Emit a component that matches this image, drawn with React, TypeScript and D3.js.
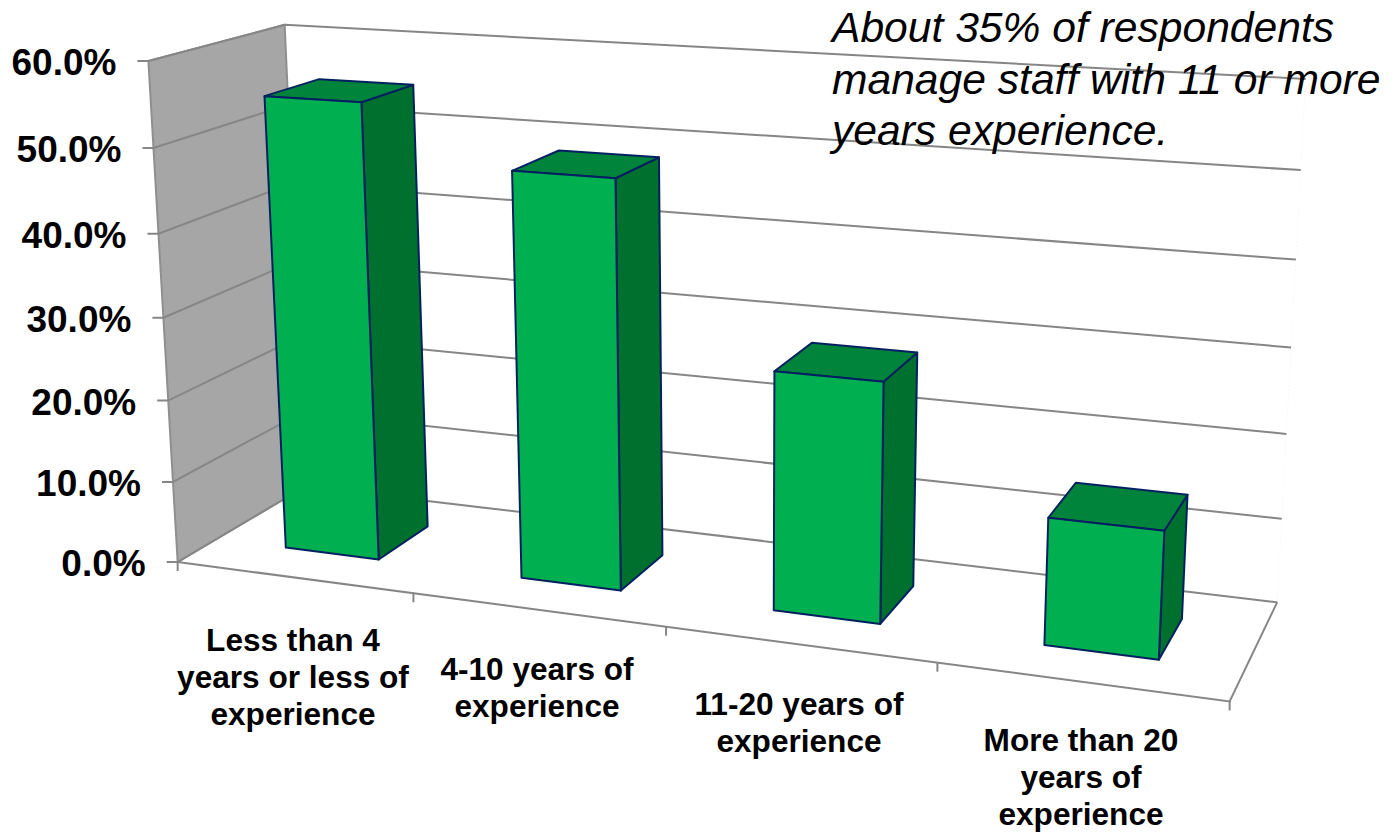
import React, { useEffect, useRef } from 'react';
import * as d3 from 'd3';

const categories = ['Less than 4 years or less of experience', '4-10 years of experience', '11-20 years of experience', 'More than 20 years of experience'];
const values = [55.1, 48.4, 28, 14.6];
const yTicks = [0, 10, 20, 30, 40, 50, 60];

const categoryLines = [
  ['Less than 4', 'years or less of', 'experience'],
  ['4-10 years of', 'experience'],
  ['11-20 years of', 'experience'],
  ['More than 20', 'years of', 'experience'],
];
const labelCenters = [293, 537, 799, 1081];
const labelBaselines = [651, 680, 715, 751];
const note = ['About 35% of respondents', 'manage staff with 11 or more', 'years experience.'];

// box corners: [u, v, w] -> [px, py]
const calibration: [number, number, number, number, number][] = [
  [0, 0, 0, 178, 562],
  [0.25, 0, 0, 414, 593],
  [0.5, 0, 0, 666, 627],
  [0.75, 0, 0, 938, 663],
  [1, 0, 0, 1229, 702],
  [0, 0, 1, 305, 487],
  [1, 0, 1, 1277, 602],
  [0, 0.5, 0, 163, 316],
  [0, 1, 0, 148, 62],
  [0, 1, 1, 285, 25],
  [1, 1, 1, 1306, 79],
  [1, 0.5, 1, 1291, 347],
];

// least squares fit of a 3D -> 2D perspective matrix
function fitProjection(points: typeof calibration) {
  const n = 11;
  const A = d3.range(n).map(() => new Array(n + 1).fill(0));
  const addRow = (row: number[], rhs: number) => {
    for (let i = 0; i < n; i++) {
      for (let j = 0; j < n; j++) A[i][j] += row[i] * row[j];
      A[i][n] += row[i] * rhs;
    }
  };
  points.forEach(([u, v, w, x, y]) => {
    addRow([u, v, w, 1, 0, 0, 0, 0, -x * u, -x * v, -x * w], x);
    addRow([0, 0, 0, 0, u, v, w, 1, -y * u, -y * v, -y * w], y);
  });
  for (let c = 0; c < n; c++) {
    let p = c;
    for (let r = c + 1; r < n; r++) if (Math.abs(A[r][c]) > Math.abs(A[p][c])) p = r;
    [A[c], A[p]] = [A[p], A[c]];
    for (let r = 0; r < n; r++) {
      if (r === c) continue;
      const f = A[r][c] / A[c][c];
      for (let k = c; k <= n; k++) A[r][k] -= f * A[c][k];
    }
  }
  const m = A.map((row, i) => row[n] / row[i]);
  return (u: number, v: number, w: number): [number, number] => {
    const d = m[8] * u + m[9] * v + m[10] * w + 1;
    return [
      (m[0] * u + m[1] * v + m[2] * w + m[3]) / d,
      (m[4] * u + m[5] * v + m[6] * w + m[7]) / d,
    ];
  };
}

const App: React.FC = () => {
  const svgRef = useRef<SVGSVGElement>(null);

  useEffect(() => {
    if (!svgRef.current) return;
    const svg = d3.select(svgRef.current);
    svg.selectAll('*').remove();

    const project = fitProjection(calibration);
    const xBand = d3.scaleBand<string>().domain(categories).range([0.0015, 1.0015]).paddingInner(0.598).paddingOuter(0.299);
    const yScale = d3.scaleLinear().domain([0, 60]).range([0, 1]);
    const depth = d3.scaleLinear().domain([0, 1]).range([0.29, 0.71]);
    const line = d3.line();
    const closed = (pts: [number, number][]) => line(pts) + 'Z';

    const gridColor = '#868686';

    // left wall
    svg.append('path')
      .attr('d', closed([project(0, 0, 0), project(0, 1, 0), project(0, 1, 1), project(0, 0, 1)]))
      .attr('fill', '#a6a6a6')
      .attr('stroke', '#8f8f8f')
      .attr('stroke-width', 2);

    // faint far edge of the back wall
    svg.append('path')
      .attr('d', line([project(1, 0, 1), project(1, 1, 1)]))
      .attr('stroke', '#f2f2f2')
      .attr('stroke-width', 1)
      .attr('stroke-dasharray', '1 3');

    // gridlines on both walls, plus outward ticks
    yTicks.forEach(t => {
      const v = yScale(t);
      const front = project(0, v, 0);
      svg.append('path')
        .attr('d', line([[front[0] - 11, front[1]], front, project(0, v, 1), project(1, v, 1)]))
        .attr('fill', 'none')
        .attr('stroke', gridColor)
        .attr('stroke-width', 2);
    });

    // floor edges and category ticks
    svg.append('path')
      .attr('d', line([project(0, 0, 0), project(1, 0, 0), project(1, 0, 1)]))
      .attr('fill', 'none')
      .attr('stroke', gridColor)
      .attr('stroke-width', 2);
    d3.range(0, 5).forEach(i => {
      const p = project(i / 4, 0, 0);
      svg.append('path')
        .attr('d', line([p, [p[0], p[1] + 9]]))
        .attr('stroke', gridColor)
        .attr('stroke-width', 2);
    });

    // bars
    categories.forEach((c, i) => {
      const u0 = xBand(c)!;
      const u1 = u0 + xBand.bandwidth();
      const v = yScale(values[i]);
      const w0 = depth(0);
      const w1 = depth(1);
      const g = svg.append('g').attr('stroke', '#002060').attr('stroke-width', 2).attr('stroke-linejoin', 'round');
      g.append('path')
        .attr('fill', '#00702f')
        .attr('d', closed([project(u1, 0, w0), project(u1, v, w0), project(u1, v, w1), project(u1, 0, w1)]));
      g.append('path')
        .attr('fill', '#00843c')
        .attr('d', closed([project(u0, v, w0), project(u1, v, w0), project(u1, v, w1), project(u0, v, w1)]));
      g.append('path')
        .attr('fill', '#00b050')
        .attr('d', closed([project(u0, 0, w0), project(u1, 0, w0), project(u1, v, w0), project(u0, v, w0)]));
    });

    const font = '"Liberation Sans", Arial, sans-serif';

    // value axis labels
    yTicks.forEach(t => {
      const p = project(0, yScale(t), 0);
      svg.append('text')
        .attr('x', p[0] - 32)
        .attr('y', p[1] + 14)
        .attr('text-anchor', 'end')
        .style('font-family', font)
        .style('font-size', '37px')
        .style('font-weight', '700')
        .text(`${t.toFixed(1)}%`);
    });

    // category labels
    categoryLines.forEach((lines, i) => {
      lines.forEach((l, k) => {
        svg.append('text')
          .attr('x', labelCenters[i])
          .attr('y', labelBaselines[i] + k * 37)
          .attr('text-anchor', 'middle')
          .style('font-family', font)
          .style('font-size', '31.6px')
          .style('font-weight', '700')
          .text(l);
      });
    });

    // annotation
    note.forEach((l, k) => {
      svg.append('text')
        .attr('x', 832)
        .attr('y', 42 + k * 51.5)
        .style('font-family', font)
        .style('font-size', '42.6px')
        .style('font-style', 'italic')
        .text(l);
    });
  }, []);

  return (
    <svg
      ref={svgRef}
      width={1396}
      height={832}
      viewBox="0 0 1396 832"
      style={{ position: 'absolute', left: 0, top: 0, background: '#fff' }}
    />
  );
};

export default App;
